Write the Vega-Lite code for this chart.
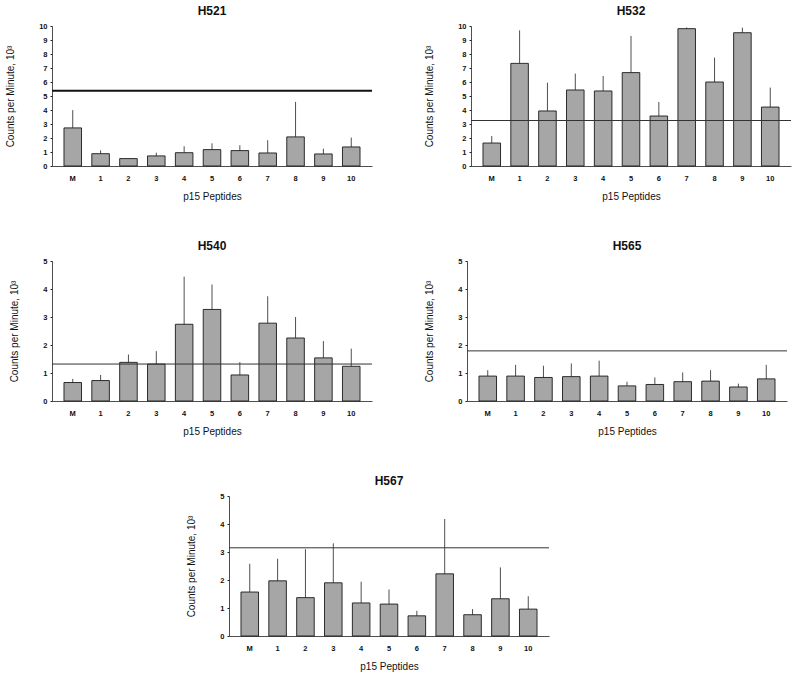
{
  "$schema": "https://vega.github.io/schema/vega-lite/v6.json",
  "background": "white",
  "padding": 5,
  "datasets": {
    "bars": [
      {"cell": "H521", "peptide": "M", "cpm": 2.72, "upper": 3.99},
      {"cell": "H521", "peptide": "1", "cpm": 0.88, "upper": 1.12},
      {"cell": "H521", "peptide": "2", "cpm": 0.53, "upper": 0.55},
      {"cell": "H521", "peptide": "3", "cpm": 0.72, "upper": 0.95},
      {"cell": "H521", "peptide": "4", "cpm": 0.95, "upper": 1.41},
      {"cell": "H521", "peptide": "5", "cpm": 1.17, "upper": 1.62},
      {"cell": "H521", "peptide": "6", "cpm": 1.10, "upper": 1.48},
      {"cell": "H521", "peptide": "7", "cpm": 0.93, "upper": 1.84},
      {"cell": "H521", "peptide": "8", "cpm": 2.08, "upper": 4.58},
      {"cell": "H521", "peptide": "9", "cpm": 0.86, "upper": 1.24},
      {"cell": "H521", "peptide": "10", "cpm": 1.36, "upper": 2.03},
      {"cell": "H532", "peptide": "M", "cpm": 1.64, "upper": 2.14},
      {"cell": "H532", "peptide": "1", "cpm": 7.33, "upper": 9.69},
      {"cell": "H532", "peptide": "2", "cpm": 3.93, "upper": 5.95},
      {"cell": "H532", "peptide": "3", "cpm": 5.43, "upper": 6.60},
      {"cell": "H532", "peptide": "4", "cpm": 5.36, "upper": 6.43},
      {"cell": "H532", "peptide": "5", "cpm": 6.67, "upper": 9.29},
      {"cell": "H532", "peptide": "6", "cpm": 3.57, "upper": 4.57},
      {"cell": "H532", "peptide": "7", "cpm": 9.81, "upper": 9.90},
      {"cell": "H532", "peptide": "8", "cpm": 6.00, "upper": 7.74},
      {"cell": "H532", "peptide": "9", "cpm": 9.52, "upper": 9.88},
      {"cell": "H532", "peptide": "10", "cpm": 4.21, "upper": 5.60},
      {"cell": "H540", "peptide": "M", "cpm": 0.66, "upper": 0.79},
      {"cell": "H540", "peptide": "1", "cpm": 0.73, "upper": 0.93},
      {"cell": "H540", "peptide": "2", "cpm": 1.38, "upper": 1.66},
      {"cell": "H540", "peptide": "3", "cpm": 1.32, "upper": 1.78},
      {"cell": "H540", "peptide": "4", "cpm": 2.74, "upper": 4.44},
      {"cell": "H540", "peptide": "5", "cpm": 3.27, "upper": 4.16},
      {"cell": "H540", "peptide": "6", "cpm": 0.93, "upper": 1.39},
      {"cell": "H540", "peptide": "7", "cpm": 2.78, "upper": 3.74},
      {"cell": "H540", "peptide": "8", "cpm": 2.25, "upper": 3.00},
      {"cell": "H540", "peptide": "9", "cpm": 1.54, "upper": 2.14},
      {"cell": "H540", "peptide": "10", "cpm": 1.24, "upper": 1.87},
      {"cell": "H565", "peptide": "M", "cpm": 0.89, "upper": 1.10},
      {"cell": "H565", "peptide": "1", "cpm": 0.89, "upper": 1.29},
      {"cell": "H565", "peptide": "2", "cpm": 0.84, "upper": 1.26},
      {"cell": "H565", "peptide": "3", "cpm": 0.87, "upper": 1.34},
      {"cell": "H565", "peptide": "4", "cpm": 0.89, "upper": 1.44},
      {"cell": "H565", "peptide": "5", "cpm": 0.54, "upper": 0.69},
      {"cell": "H565", "peptide": "6", "cpm": 0.59, "upper": 0.84},
      {"cell": "H565", "peptide": "7", "cpm": 0.69, "upper": 1.02},
      {"cell": "H565", "peptide": "8", "cpm": 0.71, "upper": 1.10},
      {"cell": "H565", "peptide": "9", "cpm": 0.50, "upper": 0.62},
      {"cell": "H565", "peptide": "10", "cpm": 0.79, "upper": 1.29},
      {"cell": "H567", "peptide": "M", "cpm": 1.57, "upper": 2.58},
      {"cell": "H567", "peptide": "1", "cpm": 1.97, "upper": 2.76},
      {"cell": "H567", "peptide": "2", "cpm": 1.37, "upper": 3.10},
      {"cell": "H567", "peptide": "3", "cpm": 1.90, "upper": 3.31},
      {"cell": "H567", "peptide": "4", "cpm": 1.18, "upper": 1.94},
      {"cell": "H567", "peptide": "5", "cpm": 1.14, "upper": 1.66},
      {"cell": "H567", "peptide": "6", "cpm": 0.72, "upper": 0.90},
      {"cell": "H567", "peptide": "7", "cpm": 2.22, "upper": 4.18},
      {"cell": "H567", "peptide": "8", "cpm": 0.76, "upper": 0.96},
      {"cell": "H567", "peptide": "9", "cpm": 1.33, "upper": 2.45},
      {"cell": "H567", "peptide": "10", "cpm": 0.96, "upper": 1.42}
    ],
    "refs": [
      {"cell": "H521", "ref": 5.37},
      {"cell": "H532", "ref": 3.25},
      {"cell": "H540", "ref": 1.32},
      {"cell": "H565", "ref": 1.79},
      {"cell": "H567", "ref": 3.15}
    ]
  },
  "spacing": 38,
  "vconcat": [
    {
      "spacing": 51,
      "hconcat": [
        {
          "title": "H521",
          "width": 320,
          "height": 140,
          "layer": [
            {
              "data": {"name": "bars"},
              "transform": [{"filter": "datum.cell == 'H521'"}],
              "layer": [
                {
                  "mark": {"type": "bar", "fill": "#a6a6a6", "stroke": "#1a1a1a", "strokeWidth": 0.9},
                  "encoding": {
                    "x": {"field": "peptide", "type": "nominal", "sort": null, "title": "p15 Peptides"},
                    "y": {"field": "cpm", "type": "quantitative", "title": "Counts per Minute, 10³",
                      "scale": {"domain": [0, 10], "nice": false},
                      "axis": {"values": [0, 1, 2, 3, 4, 5, 6, 7, 8, 9, 10]}}
                  }
                },
                {
                  "mark": {"type": "rule", "color": "#222", "strokeWidth": 0.8},
                  "encoding": {
                    "x": {"field": "peptide", "type": "nominal", "sort": null},
                    "y": {"field": "cpm", "type": "quantitative", "axis": {"values": [0, 1, 2, 3, 4, 5, 6, 7, 8, 9, 10]}},
                    "y2": {"field": "upper"}
                  }
                }
              ]
            },
            {
              "data": {"name": "refs"},
              "transform": [{"filter": "datum.cell == 'H521'"}],
              "mark": {"type": "rule", "color": "#111", "strokeWidth": 2},
              "encoding": {"y": {"field": "ref", "type": "quantitative", "axis": {"values": [0, 1, 2, 3, 4, 5, 6, 7, 8, 9, 10]}}}
            }
          ]
        },
        {
          "title": "H532",
          "width": 320,
          "height": 140,
          "layer": [
            {
              "data": {"name": "bars"},
              "transform": [{"filter": "datum.cell == 'H532'"}],
              "layer": [
                {
                  "mark": {"type": "bar", "fill": "#a6a6a6", "stroke": "#1a1a1a", "strokeWidth": 0.9},
                  "encoding": {
                    "x": {"field": "peptide", "type": "nominal", "sort": null, "title": "p15 Peptides"},
                    "y": {"field": "cpm", "type": "quantitative", "title": "Counts per Minute, 10³",
                      "scale": {"domain": [0, 10], "nice": false},
                      "axis": {"values": [0, 1, 2, 3, 4, 5, 6, 7, 8, 9, 10]}}
                  }
                },
                {
                  "mark": {"type": "rule", "color": "#222", "strokeWidth": 0.8},
                  "encoding": {
                    "x": {"field": "peptide", "type": "nominal", "sort": null},
                    "y": {"field": "cpm", "type": "quantitative", "axis": {"values": [0, 1, 2, 3, 4, 5, 6, 7, 8, 9, 10]}},
                    "y2": {"field": "upper"}
                  }
                }
              ]
            },
            {
              "data": {"name": "refs"},
              "transform": [{"filter": "datum.cell == 'H532'"}],
              "mark": {"type": "rule", "color": "#333", "strokeWidth": 1},
              "encoding": {"y": {"field": "ref", "type": "quantitative", "axis": {"values": [0, 1, 2, 3, 4, 5, 6, 7, 8, 9, 10]}}}
            }
          ]
        }
      ]
    },
    {
      "spacing": 51,
      "hconcat": [
        {
          "title": "H540",
          "width": 320,
          "height": 140,
          "layer": [
            {
              "data": {"name": "bars"},
              "transform": [{"filter": "datum.cell == 'H540'"}],
              "layer": [
                {
                  "mark": {"type": "bar", "fill": "#a6a6a6", "stroke": "#1a1a1a", "strokeWidth": 0.9},
                  "encoding": {
                    "x": {"field": "peptide", "type": "nominal", "sort": null, "title": "p15 Peptides"},
                    "y": {"field": "cpm", "type": "quantitative", "title": "Counts per Minute, 10³",
                      "scale": {"domain": [0, 5], "nice": false},
                      "axis": {"values": [0, 1, 2, 3, 4, 5]}}
                  }
                },
                {
                  "mark": {"type": "rule", "color": "#222", "strokeWidth": 0.8},
                  "encoding": {
                    "x": {"field": "peptide", "type": "nominal", "sort": null},
                    "y": {"field": "cpm", "type": "quantitative", "axis": {"values": [0, 1, 2, 3, 4, 5]}},
                    "y2": {"field": "upper"}
                  }
                }
              ]
            },
            {
              "data": {"name": "refs"},
              "transform": [{"filter": "datum.cell == 'H540'"}],
              "mark": {"type": "rule", "color": "#333", "strokeWidth": 1},
              "encoding": {"y": {"field": "ref", "type": "quantitative", "axis": {"values": [0, 1, 2, 3, 4, 5]}}}
            }
          ]
        },
        {
          "title": "H565",
          "width": 320,
          "height": 140,
          "layer": [
            {
              "data": {"name": "bars"},
              "transform": [{"filter": "datum.cell == 'H565'"}],
              "layer": [
                {
                  "mark": {"type": "bar", "fill": "#a6a6a6", "stroke": "#1a1a1a", "strokeWidth": 0.9},
                  "encoding": {
                    "x": {"field": "peptide", "type": "nominal", "sort": null, "title": "p15 Peptides"},
                    "y": {"field": "cpm", "type": "quantitative", "title": "Counts per Minute, 10³",
                      "scale": {"domain": [0, 5], "nice": false},
                      "axis": {"values": [0, 1, 2, 3, 4, 5]}}
                  }
                },
                {
                  "mark": {"type": "rule", "color": "#222", "strokeWidth": 0.8},
                  "encoding": {
                    "x": {"field": "peptide", "type": "nominal", "sort": null},
                    "y": {"field": "cpm", "type": "quantitative", "axis": {"values": [0, 1, 2, 3, 4, 5]}},
                    "y2": {"field": "upper"}
                  }
                }
              ]
            },
            {
              "data": {"name": "refs"},
              "transform": [{"filter": "datum.cell == 'H565'"}],
              "mark": {"type": "rule", "color": "#333", "strokeWidth": 1},
              "encoding": {"y": {"field": "ref", "type": "quantitative", "axis": {"values": [0, 1, 2, 3, 4, 5]}}}
            }
          ]
        }
      ]
    },
    {
      "spacing": 20,
      "hconcat": [
        {
          "width": 114,
          "height": 140,
          "data": {"values": []},
          "mark": {"type": "point", "opacity": 0}
        },
        {
          "title": "H567",
          "width": 320,
          "height": 140,
          "layer": [
            {
              "data": {"name": "bars"},
              "transform": [{"filter": "datum.cell == 'H567'"}],
              "layer": [
                {
                  "mark": {"type": "bar", "fill": "#a6a6a6", "stroke": "#1a1a1a", "strokeWidth": 0.9},
                  "encoding": {
                    "x": {"field": "peptide", "type": "nominal", "sort": null, "title": "p15 Peptides"},
                    "y": {"field": "cpm", "type": "quantitative", "title": "Counts per Minute, 10³",
                      "scale": {"domain": [0, 5], "nice": false},
                      "axis": {"values": [0, 1, 2, 3, 4, 5]}}
                  }
                },
                {
                  "mark": {"type": "rule", "color": "#222", "strokeWidth": 0.8},
                  "encoding": {
                    "x": {"field": "peptide", "type": "nominal", "sort": null},
                    "y": {"field": "cpm", "type": "quantitative", "axis": {"values": [0, 1, 2, 3, 4, 5]}},
                    "y2": {"field": "upper"}
                  }
                }
              ]
            },
            {
              "data": {"name": "refs"},
              "transform": [{"filter": "datum.cell == 'H567'"}],
              "mark": {"type": "rule", "color": "#333", "strokeWidth": 1},
              "encoding": {"y": {"field": "ref", "type": "quantitative", "axis": {"values": [0, 1, 2, 3, 4, 5]}}}
            }
          ]
        }
      ]
    }
  ],
  "config": {
    "font": "Liberation Sans",
    "view": {"stroke": null},
    "scale": {"bandPaddingInner": 0.37, "bandPaddingOuter": 0.43},
    "title": {"fontSize": 12, "fontWeight": "bold", "color": "#111", "offset": 0},
    "axis": {
      "grid": false,
      "domainColor": "#222",
      "domainWidth": 0.8,
      "labelColor": "#111",
      "titleColor": "#111",
      "labelFontSize": 7.5,
      "labelFontWeight": "bold",
      "labelOverlap": false,
      "titleFontSize": 10,
      "titleFontWeight": "normal"
    },
    "axisX": {"labelAngle": 0, "ticks": false, "labelPadding": 8, "titlePadding": 10},
    "axisY": {"tickSize": 2, "tickColor": "#222", "labelPadding": 3, "titlePadding": 23}
  }
}
